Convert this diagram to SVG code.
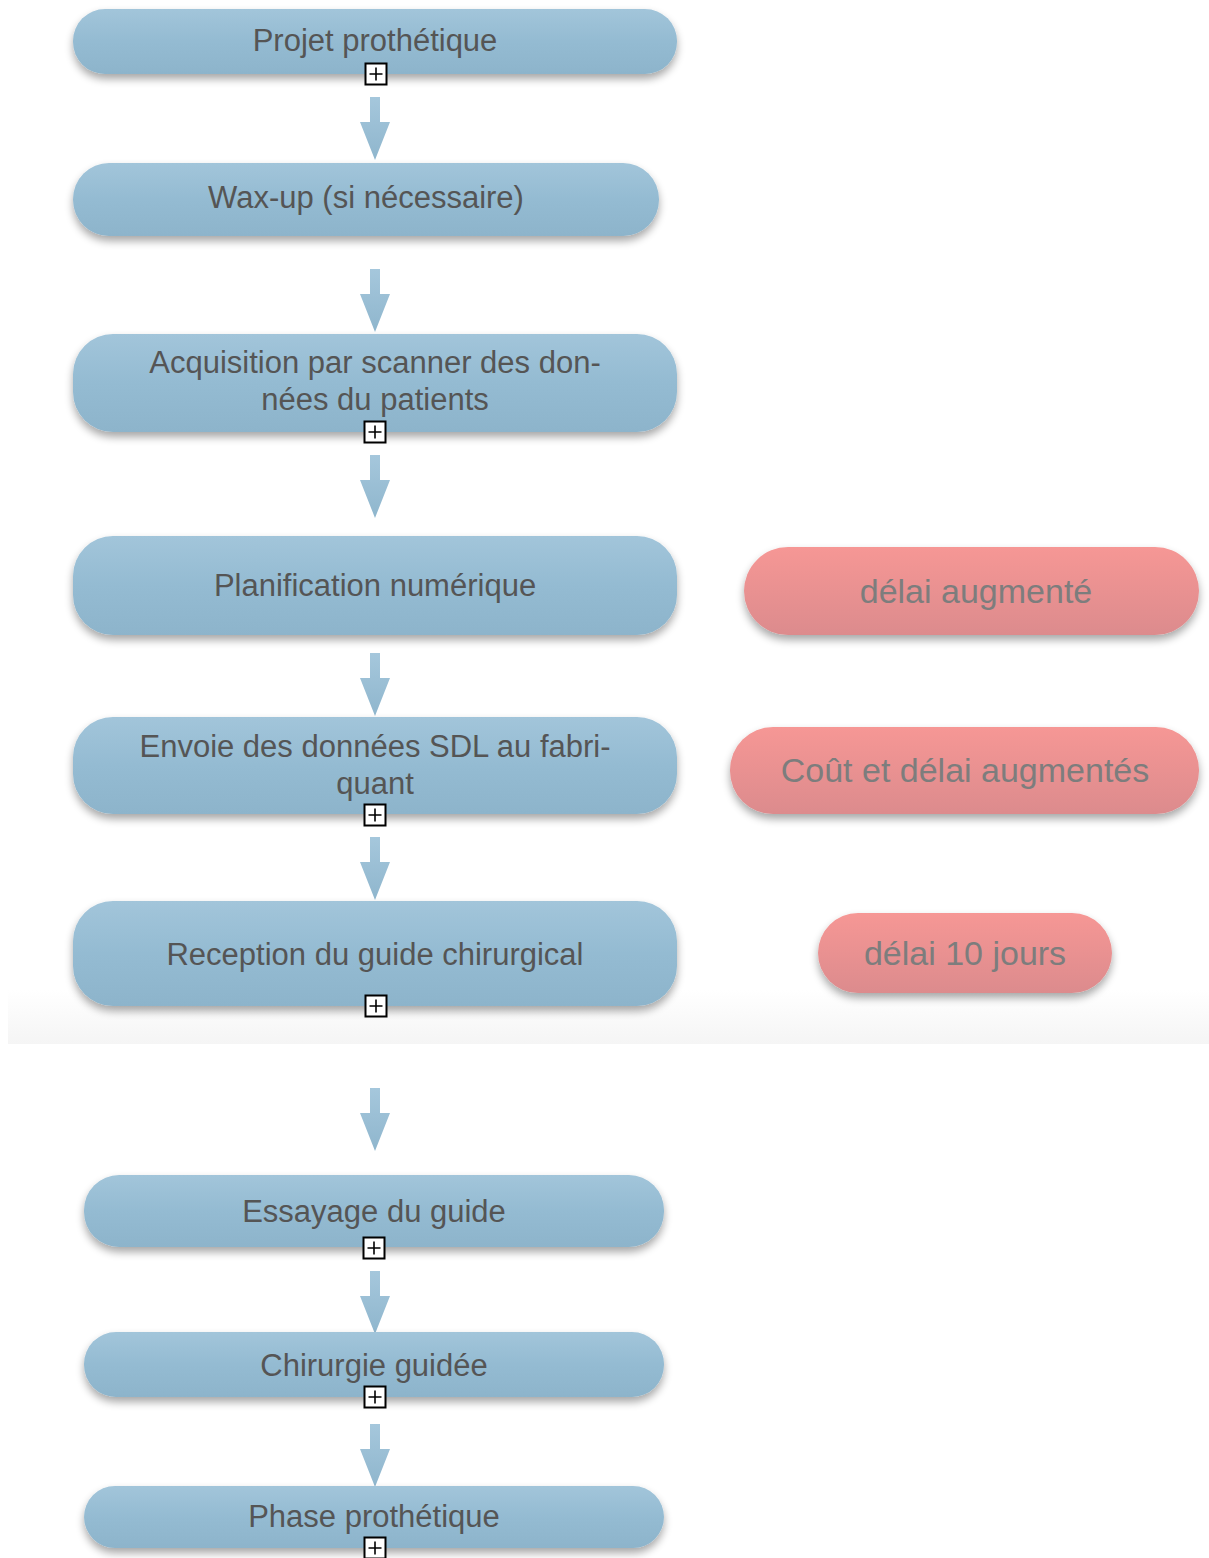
<svg xmlns="http://www.w3.org/2000/svg" width="1209" height="1558" viewBox="0 0 1209 1558">
<defs>
<linearGradient id="gb" x1="0" y1="0" x2="0" y2="1">
<stop offset="0" stop-color="#a2c5da"/><stop offset="0.5" stop-color="#94bbd2"/><stop offset="1" stop-color="#8db4cb"/>
</linearGradient>
<linearGradient id="gr" x1="0" y1="0" x2="0" y2="1">
<stop offset="0" stop-color="#f69795"/><stop offset="1" stop-color="#dc8b8d"/>
</linearGradient>
<linearGradient id="ga" x1="0" y1="0" x2="0" y2="1">
<stop offset="0" stop-color="#a5c7dc"/><stop offset="1" stop-color="#8fb6cd"/>
</linearGradient>
<linearGradient id="gband" x1="0" y1="0" x2="0" y2="1">
<stop offset="0" stop-color="#ffffff"/><stop offset="1" stop-color="#f5f5f5"/>
</linearGradient>
<filter id="sh" x="-10%" y="-30%" width="120%" height="170%">
<feGaussianBlur in="SourceAlpha" stdDeviation="4"/>
<feOffset dx="0" dy="5" result="b"/>
<feComponentTransfer><feFuncA type="linear" slope="0.35"/></feComponentTransfer>
<feMerge><feMergeNode/><feMergeNode in="SourceGraphic"/></feMerge>
</filter>
<g id="arrow"><path d="M-5,0 H5 V25 H15 L0,63 L-15,25 H-5 Z" fill="url(#ga)"/></g>
<g id="plus"><rect x="-10.5" y="-10.5" width="21" height="21" fill="#fff" stroke="#000" stroke-width="2"/><path d="M-6.5,0 H6.5 M0,-6.5 V6.5" stroke="#000" stroke-width="1.6"/></g>
</defs>
<style>
.b{fill:url(#gb);filter:url(#sh)}
.r{fill:url(#gr);filter:url(#sh)}
.t{font-family:"Liberation Sans",Arial,sans-serif;font-size:31px;fill:#555;text-anchor:middle}
.tr{font-family:"Liberation Sans",Arial,sans-serif;font-size:34px;fill:#7d7d7d;text-anchor:middle}
</style>
<rect width="1209" height="1558" fill="#fff"/>
<rect x="8" y="990" width="1201" height="54" fill="url(#gband)"/>
<g id="connectors">
<use href="#arrow" x="375" y="97"/>
<use href="#arrow" x="375" y="269"/>
<use href="#arrow" x="375" y="455"/>
<use href="#arrow" x="375" y="653"/>
<use href="#arrow" x="375" y="837"/>
<use href="#arrow" x="375" y="1088"/>
<use href="#arrow" x="375" y="1271"/>
<use href="#arrow" x="375" y="1424"/>
</g>
<g id="n1"><rect class="b" x="73" y="9" width="604" height="65" rx="32"/><text class="t" x="375" y="51">Projet prothétique</text><use href="#plus" x="376" y="74"/></g>
<g id="n2"><rect class="b" x="73" y="163" width="586" height="73" rx="36"/><text class="t" x="366" y="208">Wax-up (si nécessaire)</text></g>
<g id="n3"><rect class="b" x="73" y="334" width="604" height="98" rx="40"/><text class="t" x="375" y="373">Acquisition par scanner des don-</text><text class="t" x="375" y="410">nées du patients</text><use href="#plus" x="375" y="432"/></g>
<g id="n4"><rect class="b" x="73" y="536" width="604" height="99" rx="40"/><text class="t" x="375" y="596">Planification numérique</text></g>
<g id="n5"><rect class="b" x="73" y="717" width="604" height="97" rx="40"/><text class="t" x="375" y="757">Envoie des données SDL au fabri-</text><text class="t" x="375" y="794">quant</text><use href="#plus" x="375" y="815"/></g>
<g id="n6"><rect class="b" x="73" y="901" width="604" height="105" rx="40"/><text class="t" x="375" y="965">Reception du guide chirurgical</text><use href="#plus" x="376" y="1006"/></g>
<g id="n7"><rect class="b" x="84" y="1175" width="580" height="72" rx="35"/><text class="t" x="374" y="1222">Essayage du guide</text><use href="#plus" x="374" y="1248"/></g>
<g id="n8"><rect class="b" x="84" y="1332" width="580" height="65" rx="32"/><text class="t" x="374" y="1376">Chirurgie guidée</text><use href="#plus" x="375" y="1397"/></g>
<g id="n9"><rect class="b" x="84" y="1486" width="580" height="62" rx="31"/><text class="t" x="374" y="1527">Phase prothétique</text><use href="#plus" x="375" y="1548"/></g>
<g id="r1"><rect class="r" x="744" y="547" width="455" height="88" rx="44"/><text class="tr" x="976" y="603">délai augmenté</text></g>
<g id="r2"><rect class="r" x="730" y="727" width="469" height="87" rx="43"/><text class="tr" x="965" y="782">Coût et délai augmentés</text></g>
<g id="r3"><rect class="r" x="818" y="913" width="294" height="80" rx="40"/><text class="tr" x="965" y="965">délai 10 jours</text></g>
</svg>
